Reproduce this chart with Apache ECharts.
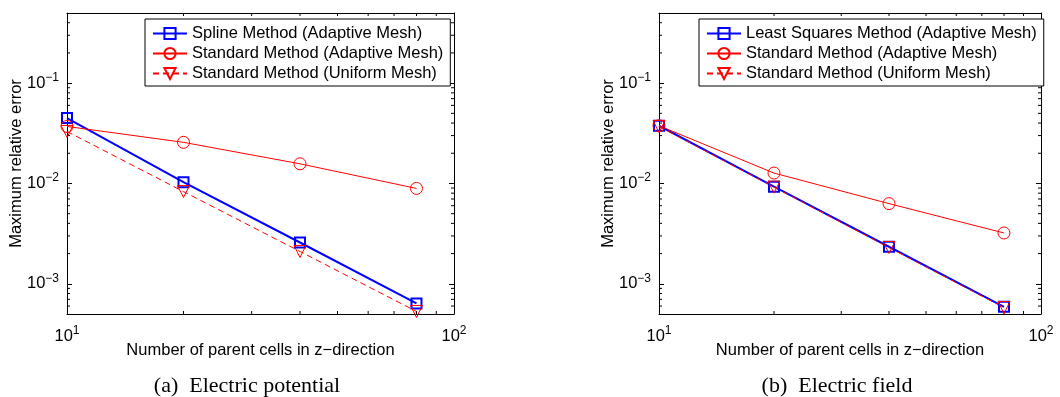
<!DOCTYPE html>
<html>
<head>
<meta charset="utf-8">
<script src="https://cdn.jsdelivr.net/npm/echarts@6/dist/echarts.min.js"></script>
<style>
  html, body { margin: 0; padding: 0; background: #fff; }
  #main { width: 1060px; height: 397px; }
</style>
</head>
<body>
<div id="main"></div>
<script>
var myChart = echarts.init(document.getElementById('main'));

// number of parent cells in z-direction
var nCells = [10, 20, 40, 80];

// (a) Electric potential
var splineAdaptive = [0.0449, 0.0103, 0.00258, 0.000637];
var stdAdaptiveA = [0.0370, 0.0257, 0.0157, 0.00893];
var stdUniformA = [0.0330, 0.0083, 0.0021, 0.00053];

// (b) Electric field
var lsqAdaptive = [0.0376, 0.0093, 0.00234, 0.00059];
var stdAdaptiveB = [0.0376, 0.0127, 0.0063, 0.00321];
var stdUniformB = [0.0370, 0.0092, 0.0023, 0.00058];

var xMin = 10, xMax = 100;
var yMin = 0.0005, yMax = 0.5;
var xMinorTicks = [20, 30, 40, 50, 60, 70, 80, 90];
var yMinorTicks = [0.0006, 0.0007, 0.0008, 0.0009,
  0.002, 0.003, 0.004, 0.005, 0.006, 0.007, 0.008, 0.009,
  0.02, 0.03, 0.04, 0.05, 0.06, 0.07, 0.08, 0.09,
  0.2, 0.3, 0.4];

var FONT = '"Liberation Sans", Arial, Helvetica, sans-serif';
var FS = 16.5;
var BLUE = '#0000ff';
var RED = '#ff0000';

function pow10Label(v) {
  var e = Math.round(Math.log10(v));
  if (Math.abs(Math.log10(v) - e) > 1e-6) return '';
  return '{b|10}{s|' + String(e).replace('-', '\u2212') + '}';
}
var richLabel = {
  b: { fontSize: FS, fontFamily: FONT, color: '#000' },
  s: { fontSize: 12, fontFamily: FONT, color: '#000', padding: [0, 0, 11, 0] }
};

function makeXAxis(grid, top) {
  return {
    type: 'log', logBase: 10, gridIndex: grid, min: xMin, max: xMax,
    position: top ? 'top' : 'bottom',
    name: top ? '' : 'Number of parent cells in z\u2212direction',
    nameLocation: 'middle', nameGap: 28, nameMoveOverlap: false,
    nameTextStyle: { fontSize: FS, fontFamily: FONT, color: '#000' },
    axisLine: { show: true, lineStyle: { color: '#000', width: 1 } },
    axisTick: { show: true, inside: true, length: 5, lineStyle: { color: '#000' } },
    axisLabel: { show: !top, formatter: pow10Label, rich: richLabel, margin: 11 },
    splitLine: { show: false }
  };
}
function makeYAxis(grid, right) {
  return {
    type: 'log', logBase: 10, gridIndex: grid, min: yMin, max: yMax,
    position: right ? 'right' : 'left',
    name: right ? '' : 'Maximum relative error',
    nameLocation: 'middle', nameGap: 42, nameMoveOverlap: false,
    nameTextStyle: { fontSize: FS, fontFamily: FONT, color: '#000' },
    axisLine: { show: true, lineStyle: { color: '#000', width: 1 } },
    axisTick: { show: true, inside: true, length: 5, lineStyle: { color: '#000' } },
    axisLabel: { show: !right, formatter: pow10Label, rich: richLabel, margin: 8 },
    splitLine: { show: false }
  };
}

function pairs(vals) {
  return nCells.map(function (n, i) { return [n, vals[i]]; });
}

function lineSeries(name, vals, idx, kind) {
  var s = {
    name: name, type: 'line', xAxisIndex: idx * 2, yAxisIndex: idx * 2,
    data: pairs(vals), clip: false, emphasis: { disabled: true }
  };
  if (kind === 'square') {
    s.symbol = 'rect'; s.symbolSize = 10;
    s.lineStyle = { color: BLUE, width: 2 };
    s.itemStyle = { color: 'rgba(0,0,0,0)', borderColor: BLUE, borderWidth: 2 };
  } else if (kind === 'circle') {
    s.symbol = 'circle'; s.symbolSize = 12;
    s.lineStyle = { color: RED, width: 1 };
    s.itemStyle = { color: 'rgba(0,0,0,0)', borderColor: RED, borderWidth: 1 };
  } else {
    s.symbol = 'triangle'; s.symbolSize = 12; s.symbolRotate = 180;
    s.lineStyle = { color: RED, width: 1, type: [6, 4] };
    s.itemStyle = { color: 'rgba(0,0,0,0)', borderColor: RED, borderWidth: 1 };
  }
  return s;
}

// minor ticks (2..9 per decade) on all four sides, like the original plot box
function minorTickSeries(idx) {
  var data = [];
  xMinorTicks.forEach(function (u) { data.push([u, 0.01, 0]); });
  yMinorTicks.forEach(function (v) { data.push([20, v, 1]); });
  return {
    type: 'custom', xAxisIndex: idx * 2, yAxisIndex: idx * 2, clip: false,
    silent: true, data: data,
    renderItem: function (params, api) {
      var cs = params.coordSys;
      var len = 3;
      var p = api.coord([api.value(0), api.value(1)]);
      var lines;
      if (api.value(2) === 0) {
        lines = [[p[0], cs.y + cs.height, p[0], cs.y + cs.height - len],
                 [p[0], cs.y, p[0], cs.y + len]];
      } else {
        lines = [[cs.x, p[1], cs.x + len, p[1]],
                 [cs.x + cs.width, p[1], cs.x + cs.width - len, p[1]]];
      }
      return {
        type: 'group',
        children: lines.map(function (l) {
          return { type: 'line', shape: { x1: l[0], y1: l[1], x2: l[2], y2: l[3] },
                   style: { stroke: '#000', lineWidth: 1 } };
        })
      };
    }
  };
}

function legendFor(left, names) {
  return {
    orient: 'vertical', left: left, top: 19, data: names,
    itemWidth: 34, itemHeight: 14, itemGap: 3,
    padding: [6, 7, 4, 7],
    borderColor: '#000', borderWidth: 1, backgroundColor: '#fff',
    selectedMode: false,
    textStyle: { fontSize: FS, fontFamily: FONT, color: '#000' }
  };
}

var option = {
  animation: false,
  backgroundColor: '#fff',
  grid: [
    { left: 67, right: 606, top: 13, bottom: 83 },
    { left: 659, right: 19, top: 13, bottom: 83 }
  ],
  xAxis: [makeXAxis(0, false), makeXAxis(0, true), makeXAxis(1, false), makeXAxis(1, true)],
  yAxis: [makeYAxis(0, false), makeYAxis(0, true), makeYAxis(1, false), makeYAxis(1, true)],
  legend: [
    legendFor(145, ['Spline Method (Adaptive Mesh)', 'Standard Method (Adaptive Mesh)', 'Standard Method (Uniform Mesh)']),
    legendFor(699, ['Least Squares Method (Adaptive Mesh)', 'Standard Method (Adaptive Mesh)', 'Standard Method (Uniform Mesh)'])
  ],
  series: [
    minorTickSeries(0),
    minorTickSeries(1),
    lineSeries('Spline Method (Adaptive Mesh)', splineAdaptive, 0, 'square'),
    lineSeries('Standard Method (Adaptive Mesh)', stdAdaptiveA, 0, 'circle'),
    lineSeries('Standard Method (Uniform Mesh)', stdUniformA, 0, 'triangle'),
    lineSeries('Least Squares Method (Adaptive Mesh)', lsqAdaptive, 1, 'square'),
    lineSeries('Standard Method (Adaptive Mesh)', stdAdaptiveB, 1, 'circle'),
    lineSeries('Standard Method (Uniform Mesh)', stdUniformB, 1, 'triangle')
  ],
  graphic: [
    { type: 'text', x: 247, y: 386, style: { text: '(a)  Electric potential', font: '22px "Liberation Serif", "DejaVu Serif", serif', fill: '#000', textAlign: 'center', textVerticalAlign: 'middle' } },
    { type: 'text', x: 837, y: 386, style: { text: '(b)  Electric field', font: '22px "Liberation Serif", "DejaVu Serif", serif', fill: '#000', textAlign: 'center', textVerticalAlign: 'middle' } }
  ]
};
myChart.setOption(option);
</script>
</body>
</html>
